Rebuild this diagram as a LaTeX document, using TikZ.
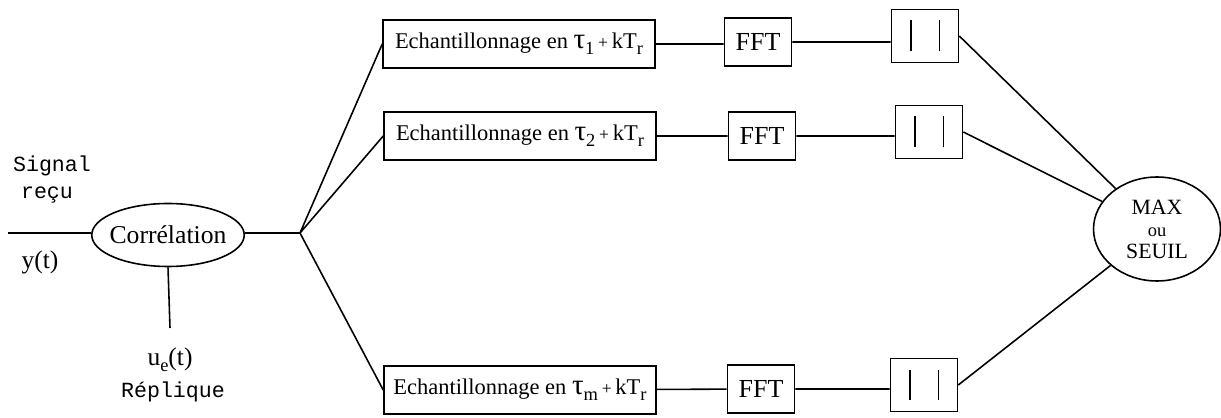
\documentclass[tikz,border=0pt]{standalone}
\usepackage{fontspec}
\setmainfont{Liberation Serif}
\setmonofont{Liberation Mono}
\usetikzlibrary{shapes}
\usetikzlibrary{positioning}
\newcommand{\sbs}[1]{\raisebox{-0.55ex}{\fontsize{10.5}{12}\selectfont #1}}
\newcommand{\ech}[1]{Echantillonnage en {\fontsize{16.5}{16}\selectfont τ}\sbs{#1}\,{\fontsize{10}{12}\selectfont +}\,kT\sbs{r}}
\newcommand{\vbars}{\raisebox{-0.8mm}{\rule{0.9pt}{6.2mm}\hspace{5.4mm}\rule{0.9pt}{6.2mm}}\hspace{3.6mm}}

\begin{document}
\begin{tikzpicture}[x=0.02cm,y=-0.02cm,line width=0.9pt]
		\tikzstyle{every node}=[inner sep=0pt];
		\tikzstyle{echbox}=[draw,shape=rectangle,minimum width=5.44cm,minimum height=0.96cm,font=\fontsize{12.8}{14}\selectfont];
		\tikzstyle{fftbox}=[draw,shape=rectangle,minimum width=1.34cm,minimum height=0.96cm,font=\fontsize{14.8}{16}\selectfont];
		\tikzstyle{absbox}=[draw,shape=rectangle,minimum width=1.34cm,minimum height=1.06cm];
		\tikzstyle{mono}=[font=\fontsize{12.3}{14}\ttfamily];
		\tikzstyle{sig}=[font=\fontsize{14.5}{16}\selectfont];
		\useasboundingbox (0,0) rectangle (1221,418);
		% entree et correlation
		\path (168,235) node[draw,shape=ellipse,inner xsep=-0.09cm,minimum height=1.26cm,font=\fontsize{14.6}{16}\selectfont] (corr) {Corrélation};
		\coordinate (in) at (8,233);
		\coordinate (br) at (300,233);
		\coordinate (rep) at (170,328);
		\path (52,166) node[mono] (signal) {Signal};
		\path (47,195) node[mono] (recu) {reçu};
		\path (40,262) node[sig] (yt) {y(t)};
		\path (170,360) node[sig] (ue) {u\sbs{e}(t)};
		\path (173,392) node[mono] (replique) {Réplique};
		% les trois voies
		\path (519,44)  node[echbox] (e1) {\ech{1}};
		\path (520,136) node[echbox] (e2) {\ech{2}};
		\path (520,390) node[echbox] (e3) {\ech{m}};
		\path (758,42)  node[fftbox] (f1) {FFT};
		\path (762,136) node[fftbox] (f2) {FFT};
		\path (761,389) node[fftbox] (f3) {FFT};
		\path (925,36)  node[absbox] (a1) {\vbars};
		\path (929,132) node[absbox] (a2) {\vbars};
		\path (924,385) node[absbox] (a3) {\vbars};
		\path (1157,229) node[draw,shape=ellipse,minimum width=2.54cm,minimum height=2.08cm,align=center,font=\fontsize{12.4}{12.5}\selectfont] (max) {MAX\\{\fontsize{10.5}{12}\selectfont ou}\\SEUIL};
		\draw (in) -- (in -| corr.west)
		(corr.east |- br) -- (br)
		(corr.south) -- (rep);
		\draw (br) -- (e1.west)
		(br) -- (e2.west)
		(br) -- (e3.west);
		\draw (e1.east) -- (e1.east -| f1.west)
		(f1.east) -- (f1.east -| a1.west)
		(e2) -- (f2)
		(f2.east) -- (f2.east -| a2.west)
		(e3) -- (f3)
		(f3.east) -- (f3.east -| a3.west);
		\draw (a1.east) -- (max)
		(a2.east) -- (max)
		(a3.east) -- (max);
		\end{tikzpicture}
\end{document}
